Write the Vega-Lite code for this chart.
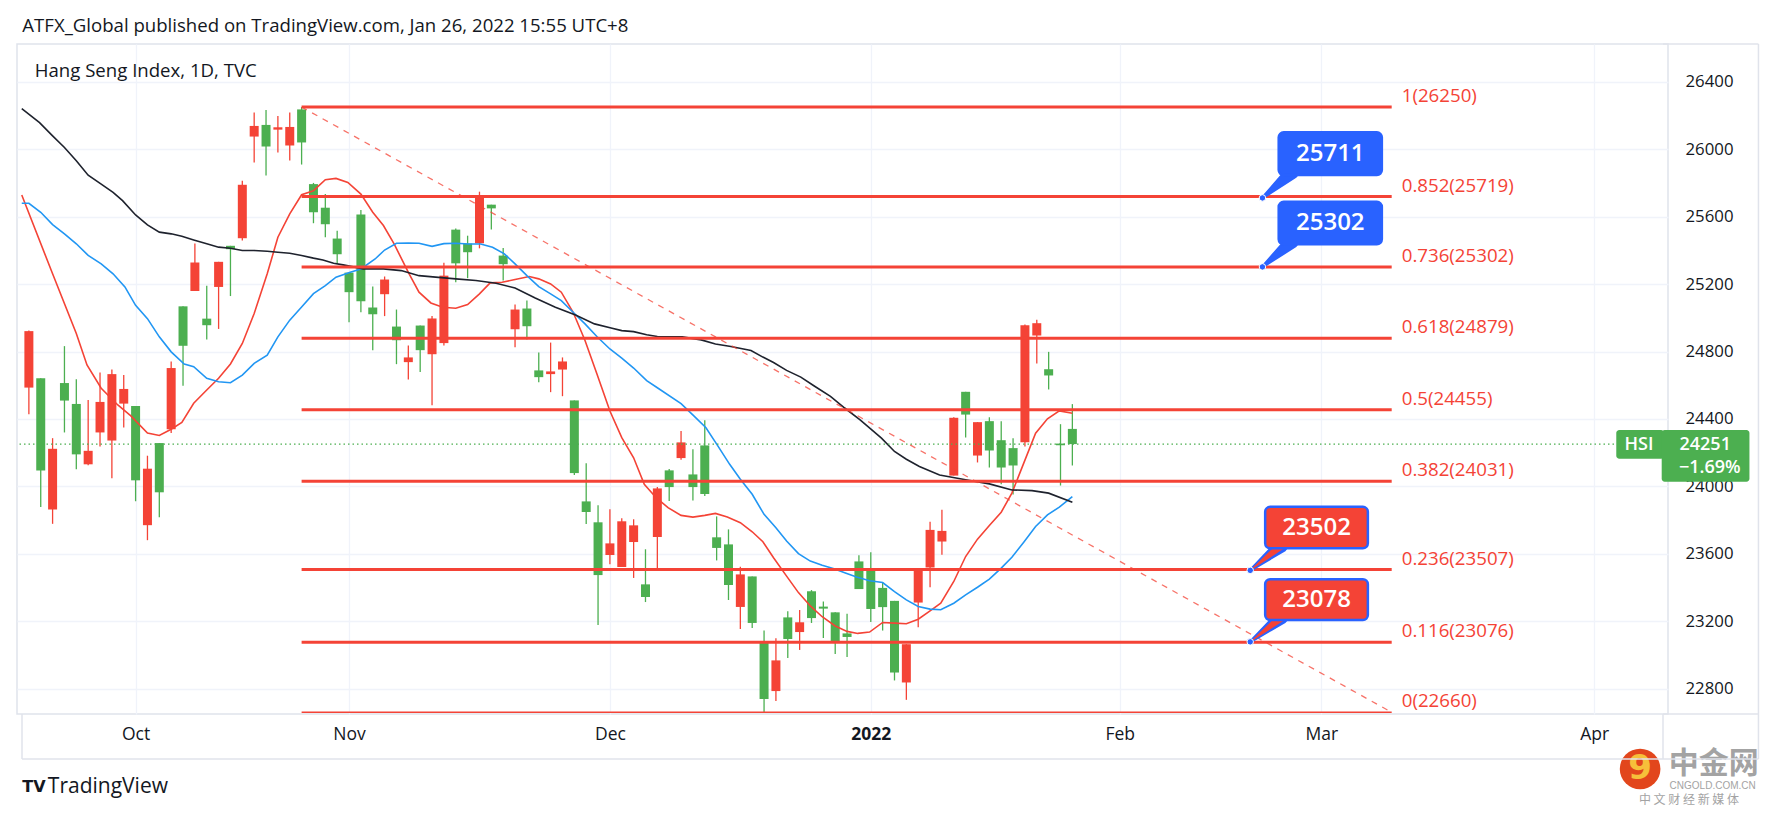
{
"$schema": "https://vega.github.io/schema/vega-lite/v6.json",
"width": 1651,
"height": 670,
"autosize": {"type": "none"},
"padding": {"left": 17, "top": 44, "right": 111, "bottom": 104},
"background": "#ffffff",
"config": {
  "view": {"stroke": "#E0E3EB", "strokeWidth": 1.5},
  "font": "Open Sans",
  "axisX": {"labelFontSize": 17.5, "labelFont": "Open Sans", "labelColor": "#131722", "ticks": false, "domain": false, "grid": true, "gridColor": "#F0F3FA", "gridWidth": 1.3, "labelPadding": 11, "labelFlush": false, "labelOverlap": false},
  "axisY": {"labelFontSize": 16.8, "labelFont": "Open Sans", "labelColor": "#131722", "ticks": false, "domain": false, "grid": true, "gridColor": "#F0F3FA", "gridWidth": 1.3, "labelPadding": 17, "labelFlush": false, "labelOverlap": false}
},
"datasets": {
  "candles": [
    {"i":-27,"o":24921,"h":24925,"l":24428,"c":24586},
    {"i":-26,"o":24095,"h":24641,"l":23878,"c":24641},
    {"i":-25,"o":24223,"h":24286,"l":23778,"c":23863},
    {"i":-24,"o":24509,"h":24832,"l":24320,"c":24613},
    {"i":-23,"o":24190,"h":24635,"l":24101,"c":24489},
    {"i":-22,"o":24211,"h":24513,"l":24125,"c":24131},
    {"i":-21,"o":24501,"h":24676,"l":24237,"c":24320},
    {"i":-20,"o":24666,"h":24694,"l":24048,"c":24272},
    {"i":-19,"o":24578,"h":24660,"l":24349,"c":24491},
    {"i":-18,"o":24036,"h":24477,"l":23912,"c":24477},
    {"i":-17,"o":24105,"h":24182,"l":23681,"c":23770},
    {"i":-16,"o":23965,"h":24257,"l":23817,"c":24257},
    {"i":-15,"o":24702,"h":24741,"l":24316,"c":24339},
    {"i":-14,"o":24834,"h":25068,"l":24597,"c":25068},
    {"i":-13,"o":25328,"h":25441,"l":25159,"c":25159},
    {"i":-12,"o":24956,"h":25190,"l":24871,"c":24995},
    {"i":-11,"o":25332,"h":25332,"l":24934,"c":25183},
    {"i":-10,"o":25407,"h":25427,"l":25129,"c":25427},
    {"i":-9,"o":25789,"h":25813,"l":25458,"c":25472},
    {"i":-8,"o":26138,"h":26217,"l":25921,"c":26075},
    {"i":-7,"o":26016,"h":26233,"l":25844,"c":26144},
    {"i":-6,"o":26130,"h":26197,"l":25980,"c":26116},
    {"i":-5,"o":26132,"h":26217,"l":25933,"c":26022},
    {"i":-4,"o":26040,"h":26250,"l":25909,"c":26236},
    {"i":-3,"o":25626,"h":25800,"l":25561,"c":25793},
    {"i":-2,"o":25555,"h":25734,"l":25478,"c":25653},
    {"i":-1,"o":25377,"h":25517,"l":25320,"c":25470},
    {"i":0,"o":25152,"h":25268,"l":24974,"c":25268},
    {"i":1,"o":25098,"h":25640,"l":25033,"c":25612},
    {"i":2,"o":25021,"h":25185,"l":24808,"c":25061},
    {"i":3,"o":25227,"h":25245,"l":25010,"c":25140},
    {"i":4,"o":24867,"h":25049,"l":24725,"c":24948},
    {"i":5,"o":24765,"h":24836,"l":24634,"c":24737},
    {"i":6,"o":24808,"h":24954,"l":24678,"c":24954},
    {"i":7,"o":24996,"h":25011,"l":24482,"c":24784},
    {"i":8,"o":25250,"h":25327,"l":24836,"c":24850},
    {"i":9,"o":25323,"h":25529,"l":25211,"c":25523},
    {"i":10,"o":25389,"h":25487,"l":25235,"c":25440},
    {"i":11,"o":25718,"h":25748,"l":25412,"c":25442},
    {"i":12,"o":25649,"h":25671,"l":25523,"c":25671},
    {"i":13,"o":25318,"h":25414,"l":25221,"c":25369},
    {"i":14,"o":25049,"h":25079,"l":24826,"c":24932},
    {"i":15,"o":24950,"h":25102,"l":24871,"c":25055},
    {"i":16,"o":24648,"h":24794,"l":24618,"c":24688},
    {"i":17,"o":24682,"h":24853,"l":24559,"c":24666},
    {"i":18,"o":24741,"h":24765,"l":24535,"c":24693},
    {"i":19,"o":24079,"h":24510,"l":24068,"c":24510},
    {"i":20,"o":23848,"h":24137,"l":23777,"c":23911},
    {"i":21,"o":23474,"h":23888,"l":23178,"c":23787},
    {"i":22,"o":23662,"h":23864,"l":23538,"c":23593},
    {"i":23,"o":23793,"h":23811,"l":23522,"c":23522},
    {"i":24,"o":23769,"h":23805,"l":23457,"c":23670},
    {"i":25,"o":23344,"h":23627,"l":23314,"c":23419},
    {"i":26,"o":23988,"h":23996,"l":23514,"c":23700},
    {"i":27,"o":23996,"h":24103,"l":23913,"c":24095},
    {"i":28,"o":24261,"h":24328,"l":24158,"c":24168},
    {"i":29,"o":23996,"h":24220,"l":23917,"c":24071},
    {"i":30,"o":23955,"h":24392,"l":23943,"c":24243},
    {"i":31,"o":23635,"h":23822,"l":23561,"c":23698},
    {"i":32,"o":23415,"h":23745,"l":23326,"c":23656},
    {"i":33,"o":23478,"h":23524,"l":23154,"c":23285},
    {"i":34,"o":23190,"h":23466,"l":23160,"c":23466},
    {"i":35,"o":22739,"h":23146,"l":22658,"c":23079},
    {"i":36,"o":22968,"h":23099,"l":22727,"c":22786},
    {"i":37,"o":23095,"h":23259,"l":22982,"c":23223},
    {"i":38,"o":23194,"h":23267,"l":23030,"c":23136},
    {"i":39,"o":23219,"h":23385,"l":23190,"c":23378},
    {"i":40,"o":23275,"h":23318,"l":23101,"c":23287},
    {"i":41,"o":23083,"h":23253,"l":23006,"c":23253},
    {"i":42,"o":23107,"h":23245,"l":22988,"c":23128},
    {"i":43,"o":23391,"h":23591,"l":23391,"c":23555},
    {"i":44,"o":23273,"h":23609,"l":23196,"c":23514},
    {"i":45,"o":23284,"h":23430,"l":23145,"c":23398},
    {"i":46,"o":22896,"h":23321,"l":22849,"c":23321},
    {"i":47,"o":23064,"h":23064,"l":22734,"c":22837},
    {"i":48,"o":23499,"h":23510,"l":23165,"c":23311},
    {"i":49,"o":23742,"h":23790,"l":23402,"c":23519},
    {"i":50,"o":23736,"h":23861,"l":23594,"c":23673},
    {"i":51,"o":24407,"h":24410,"l":24064,"c":24064},
    {"i":52,"o":24426,"h":24561,"l":24290,"c":24561},
    {"i":53,"o":24381,"h":24381,"l":24142,"c":24183},
    {"i":54,"o":24213,"h":24410,"l":24112,"c":24387},
    {"i":55,"o":24112,"h":24387,"l":24013,"c":24274},
    {"i":56,"o":24124,"h":24286,"l":23952,"c":24227},
    {"i":57,"o":24956,"h":24960,"l":24236,"c":24262},
    {"i":58,"o":24968,"h":24988,"l":24729,"c":24895},
    {"i":59,"o":24658,"h":24798,"l":24575,"c":24695},
    {"i":60,"o":24244,"h":24369,"l":24005,"c":24254},
    {"i":61,"o":24251,"h":24488,"l":24124,"c":24341}
  ],
  "mas": [
    {"ma":"fast","i":-27.6,"v":25728},{"ma":"fast","i":-25,"v":25261},{"ma":"fast","i":-23,"v":24907},{"ma":"fast","i":-22.1,"v":24720},{"ma":"fast","i":-20.9,"v":24582},{"ma":"fast","i":-19.5,"v":24483},{"ma":"fast","i":-18.4,"v":24418},{"ma":"fast","i":-17,"v":24316},{"ma":"fast","i":-16,"v":24302},{"ma":"fast","i":-15,"v":24339},{"ma":"fast","i":-14.1,"v":24379},{"ma":"fast","i":-13.1,"v":24493},{"ma":"fast","i":-12,"v":24572},{"ma":"fast","i":-11,"v":24641},{"ma":"fast","i":-10,"v":24726},{"ma":"fast","i":-9,"v":24848},{"ma":"fast","i":-8,"v":25025},{"ma":"fast","i":-6.9,"v":25261},{"ma":"fast","i":-6,"v":25478},{"ma":"fast","i":-5,"v":25616},{"ma":"fast","i":-4,"v":25730},{"ma":"fast","i":-3,"v":25754},{"ma":"fast","i":-2,"v":25819},{"ma":"fast","i":-1.1,"v":25827},{"ma":"fast","i":-0.1,"v":25803},{"ma":"fast","i":1,"v":25734},{"ma":"fast","i":2,"v":25626},{"ma":"fast","i":2.9,"v":25547},{"ma":"fast","i":3.8,"v":25438},{"ma":"fast","i":5,"v":25270},{"ma":"fast","i":5.9,"v":25152},{"ma":"fast","i":6.9,"v":25088},{"ma":"fast","i":7.9,"v":25063},{"ma":"fast","i":9,"v":25057},{"ma":"fast","i":10,"v":25079},{"ma":"fast","i":11,"v":25142},{"ma":"fast","i":11.9,"v":25207},{"ma":"fast","i":12.9,"v":25211},{"ma":"fast","i":14,"v":25227},{"ma":"fast","i":15.2,"v":25245},{"ma":"fast","i":16,"v":25231},{"ma":"fast","i":17,"v":25201},{"ma":"fast","i":17.9,"v":25152},{"ma":"fast","i":18.9,"v":25033},{"ma":"fast","i":19.9,"v":24865},{"ma":"fast","i":20.9,"v":24668},{"ma":"fast","i":22,"v":24447},{"ma":"fast","i":23,"v":24289},{"ma":"fast","i":24,"v":24170},{"ma":"fast","i":24.9,"v":24012},{"ma":"fast","i":25.9,"v":23933},{"ma":"fast","i":26.9,"v":23874},{"ma":"fast","i":28,"v":23828},{"ma":"fast","i":29,"v":23818},{"ma":"fast","i":30,"v":23828},{"ma":"fast","i":30.9,"v":23840},{"ma":"fast","i":31.9,"v":23818},{"ma":"fast","i":33,"v":23785},{"ma":"fast","i":34,"v":23731},{"ma":"fast","i":34.9,"v":23672},{"ma":"fast","i":35.8,"v":23577},{"ma":"fast","i":36.9,"v":23468},{"ma":"fast","i":37.9,"v":23370},{"ma":"fast","i":38.9,"v":23291},{"ma":"fast","i":39.9,"v":23227},{"ma":"fast","i":41,"v":23172},{"ma":"fast","i":42,"v":23140},{"ma":"fast","i":42.9,"v":23128},{"ma":"fast","i":43.9,"v":23136},{"ma":"fast","i":45,"v":23193},{"ma":"fast","i":46,"v":23189},{"ma":"fast","i":47,"v":23185},{"ma":"fast","i":48,"v":23212},{"ma":"fast","i":49,"v":23262},{"ma":"fast","i":49.9,"v":23307},{"ma":"fast","i":51,"v":23436},{"ma":"fast","i":52,"v":23584},{"ma":"fast","i":53,"v":23687},{"ma":"fast","i":54,"v":23768},{"ma":"fast","i":55,"v":23847},{"ma":"fast","i":55.9,"v":23960},{"ma":"fast","i":56.9,"v":24138},{"ma":"fast","i":57.9,"v":24316},{"ma":"fast","i":58.9,"v":24401},{"ma":"fast","i":59.9,"v":24448},{"ma":"fast","i":61,"v":24434},
    {"ma":"mid","i":-27.6,"v":25679},{"ma":"mid","i":-27,"v":25679},{"ma":"mid","i":-26,"v":25626},{"ma":"mid","i":-25,"v":25553},{"ma":"mid","i":-24,"v":25498},{"ma":"mid","i":-23,"v":25439},{"ma":"mid","i":-22,"v":25370},{"ma":"mid","i":-20.9,"v":25320},{"ma":"mid","i":-19.9,"v":25261},{"ma":"mid","i":-18.9,"v":25183},{"ma":"mid","i":-18,"v":25074},{"ma":"mid","i":-17,"v":24995},{"ma":"mid","i":-16,"v":24887},{"ma":"mid","i":-15,"v":24798},{"ma":"mid","i":-13.9,"v":24726},{"ma":"mid","i":-13.1,"v":24710},{"ma":"mid","i":-12,"v":24641},{"ma":"mid","i":-11,"v":24621},{"ma":"mid","i":-10,"v":24615},{"ma":"mid","i":-9,"v":24660},{"ma":"mid","i":-8,"v":24730},{"ma":"mid","i":-6.9,"v":24779},{"ma":"mid","i":-6,"v":24887},{"ma":"mid","i":-5,"v":24986},{"ma":"mid","i":-4,"v":25064},{"ma":"mid","i":-3,"v":25143},{"ma":"mid","i":-2,"v":25191},{"ma":"mid","i":-1.1,"v":25241},{"ma":"mid","i":0.1,"v":25270},{"ma":"mid","i":1,"v":25290},{"ma":"mid","i":2.2,"v":25349},{"ma":"mid","i":3,"v":25402},{"ma":"mid","i":4,"v":25442},{"ma":"mid","i":5,"v":25444},{"ma":"mid","i":5.9,"v":25442},{"ma":"mid","i":7,"v":25424},{"ma":"mid","i":8,"v":25440},{"ma":"mid","i":9,"v":25442},{"ma":"mid","i":10.1,"v":25438},{"ma":"mid","i":11.1,"v":25438},{"ma":"mid","i":12.1,"v":25418},{"ma":"mid","i":13.1,"v":25379},{"ma":"mid","i":14,"v":25320},{"ma":"mid","i":15,"v":25250},{"ma":"mid","i":16,"v":25185},{"ma":"mid","i":17,"v":25142},{"ma":"mid","i":17.9,"v":25102},{"ma":"mid","i":18.9,"v":25033},{"ma":"mid","i":19.9,"v":24964},{"ma":"mid","i":20.9,"v":24889},{"ma":"mid","i":22,"v":24815},{"ma":"mid","i":23,"v":24761},{"ma":"mid","i":24,"v":24702},{"ma":"mid","i":25.1,"v":24627},{"ma":"mid","i":26,"v":24585},{"ma":"mid","i":28,"v":24491},{"ma":"mid","i":29.1,"v":24417},{"ma":"mid","i":30.1,"v":24348},{"ma":"mid","i":31.1,"v":24240},{"ma":"mid","i":32.1,"v":24131},{"ma":"mid","i":33,"v":24042},{"ma":"mid","i":34,"v":23953},{"ma":"mid","i":35,"v":23834},{"ma":"mid","i":36,"v":23755},{"ma":"mid","i":36.9,"v":23676},{"ma":"mid","i":37.9,"v":23601},{"ma":"mid","i":38.9,"v":23557},{"ma":"mid","i":39.9,"v":23532},{"ma":"mid","i":40.9,"v":23512},{"ma":"mid","i":41.8,"v":23488},{"ma":"mid","i":42.8,"v":23463},{"ma":"mid","i":43.9,"v":23440},{"ma":"mid","i":45,"v":23430},{"ma":"mid","i":46,"v":23376},{"ma":"mid","i":47,"v":23327},{"ma":"mid","i":48,"v":23288},{"ma":"mid","i":49,"v":23272},{"ma":"mid","i":49.9,"v":23268},{"ma":"mid","i":51,"v":23307},{"ma":"mid","i":52,"v":23357},{"ma":"mid","i":53,"v":23402},{"ma":"mid","i":54,"v":23450},{"ma":"mid","i":55,"v":23515},{"ma":"mid","i":55.9,"v":23580},{"ma":"mid","i":56.9,"v":23669},{"ma":"mid","i":57.9,"v":23762},{"ma":"mid","i":58.9,"v":23831},{"ma":"mid","i":59.9,"v":23877},{"ma":"mid","i":61,"v":23940},
    {"ma":"slow","i":-27.6,"v":26240},{"ma":"slow","i":-26.1,"v":26158},{"ma":"slow","i":-25,"v":26079},{"ma":"slow","i":-24,"v":26010},{"ma":"slow","i":-23,"v":25931},{"ma":"slow","i":-22,"v":25846},{"ma":"slow","i":-20.9,"v":25793},{"ma":"slow","i":-19.9,"v":25744},{"ma":"slow","i":-19.1,"v":25695},{"ma":"slow","i":-18,"v":25610},{"ma":"slow","i":-17,"v":25551},{"ma":"slow","i":-16,"v":25508},{"ma":"slow","i":-15,"v":25498},{"ma":"slow","i":-14.1,"v":25484},{"ma":"slow","i":-13.1,"v":25462},{"ma":"slow","i":-12,"v":25439},{"ma":"slow","i":-11,"v":25419},{"ma":"slow","i":-10,"v":25413},{"ma":"slow","i":-9,"v":25399},{"ma":"slow","i":-8,"v":25399},{"ma":"slow","i":-6.9,"v":25395},{"ma":"slow","i":-6,"v":25389},{"ma":"slow","i":-5,"v":25383},{"ma":"slow","i":-4,"v":25370},{"ma":"slow","i":-3,"v":25354},{"ma":"slow","i":-2.2,"v":25343},{"ma":"slow","i":-1.3,"v":25324},{"ma":"slow","i":-0.5,"v":25314},{"ma":"slow","i":1.2,"v":25290},{"ma":"slow","i":2.9,"v":25290},{"ma":"slow","i":4.4,"v":25280},{"ma":"slow","i":5.9,"v":25250},{"ma":"slow","i":7.3,"v":25241},{"ma":"slow","i":9,"v":25231},{"ma":"slow","i":10.7,"v":25221},{"ma":"slow","i":12.4,"v":25205},{"ma":"slow","i":14,"v":25177},{"ma":"slow","i":15.7,"v":25118},{"ma":"slow","i":17.4,"v":25063},{"ma":"slow","i":19.1,"v":25017},{"ma":"slow","i":20.7,"v":24964},{"ma":"slow","i":22.1,"v":24940},{"ma":"slow","i":23,"v":24924},{"ma":"slow","i":24,"v":24918},{"ma":"slow","i":25.1,"v":24899},{"ma":"slow","i":26,"v":24889},{"ma":"slow","i":28.1,"v":24887},{"ma":"slow","i":29.7,"v":24869},{"ma":"slow","i":30.9,"v":24845},{"ma":"slow","i":32.2,"v":24830},{"ma":"slow","i":33.9,"v":24806},{"ma":"slow","i":34.9,"v":24767},{"ma":"slow","i":35.8,"v":24735},{"ma":"slow","i":36.9,"v":24688},{"ma":"slow","i":38.1,"v":24648},{"ma":"slow","i":39.2,"v":24597},{"ma":"slow","i":40.6,"v":24534},{"ma":"slow","i":41.8,"v":24465},{"ma":"slow","i":43.1,"v":24395},{"ma":"slow","i":44.9,"v":24286},{"ma":"slow","i":46,"v":24207},{"ma":"slow","i":47,"v":24161},{"ma":"slow","i":48.1,"v":24118},{"ma":"slow","i":49.8,"v":24068},{"ma":"slow","i":52,"v":24039},{"ma":"slow","i":54,"v":24015},{"ma":"slow","i":55.9,"v":23979},{"ma":"slow","i":57.6,"v":23975},{"ma":"slow","i":59,"v":23960},{"ma":"slow","i":61,"v":23906}
  ],
  "fibs": [
    {"ratio":1,"price":26250,"label":"1(26250)","from":-4,"to":87.93},
    {"ratio":0.852,"price":25719,"label":"0.852(25719)","from":-4,"to":87.93},
    {"ratio":0.736,"price":25302,"label":"0.736(25302)","from":-4,"to":87.93},
    {"ratio":0.618,"price":24879,"label":"0.618(24879)","from":-4,"to":87.93},
    {"ratio":0.5,"price":24455,"label":"0.5(24455)","from":-4,"to":87.93},
    {"ratio":0.382,"price":24031,"label":"0.382(24031)","from":-4,"to":87.93},
    {"ratio":0.236,"price":23507,"label":"0.236(23507)","from":-4,"to":87.93},
    {"ratio":0.116,"price":23076,"label":"0.116(23076)","from":-4,"to":87.93},
    {"ratio":0,"price":22660,"label":"0(22660)","from":-4,"to":87.93}
  ],
  "anchors": [{"i":-4,"v":26250},{"i":87.93,"v":22660}],
  "callouts": [
    {"label":"25711","kind":"blue","x1":78.4,"x2":87.1,"top":26100,"bottom":25847,"cx":82.75,"cy":25973,"tipI":77.03,"tipV":25711},
    {"label":"25302","kind":"blue","x1":78.4,"x2":87.1,"top":25688,"bottom":25436,"cx":82.75,"cy":25562,"tipI":77.03,"tipV":25302},
    {"label":"23502","kind":"red","x1":77.26,"x2":85.92,"top":23879,"bottom":23633,"cx":81.6,"cy":23756,"tipI":76.0,"tipV":23502},
    {"label":"23078","kind":"red","x1":77.26,"x2":85.92,"top":23449,"bottom":23207,"cx":81.6,"cy":23328,"tipI":76.0,"tipV":23078}
  ],
  "pointers": [
    {"id":"a","kind":"blue","t":1,"i":79.5,"v":25862},{"id":"a","kind":"blue","t":0,"i":77.03,"v":25711},
    {"id":"b","kind":"blue","t":1,"i":79.5,"v":25451},{"id":"b","kind":"blue","t":0,"i":77.03,"v":25302},
    {"id":"c","kind":"red","t":1,"i":78.6,"v":23648},{"id":"c","kind":"red","t":0,"i":76.0,"v":23502},
    {"id":"d","kind":"red","t":1,"i":78.6,"v":23222},{"id":"d","kind":"red","t":0,"i":76.0,"v":23078}
  ],
  "hsiBoxes": [
    {"x1":106.87,"x2":110.9,"top":24335,"bottom":24164},
    {"x1":110.7,"x2":118.1,"top":24335,"bottom":24028}
  ],
  "hsiTexts": [
    {"i":107.57,"v":24247,"text":"HSI"},
    {"i":112.2,"v":24247,"text":"24251"},
    {"i":112.15,"v":24109,"text":"−1.69%"}
  ],
  "notes": [
    {"i":-27.55,"v":26697,"text":"ATFX_Global published on TradingView.com, Jan 26, 2022 15:55 UTC+8"},
    {"i":-26.5,"v":26430,"text":"Hang Seng Index, 1D, TVC"}
  ],
  "frame": [
    {"x1":110.81,"x2":118.86,"y1":26624,"y2":26624},
    {"x1":118.86,"x2":118.86,"y1":22383,"y2":26624},
    {"x1":-27.58,"x2":118.86,"y1":22383,"y2":22383},
    {"x1":-27.58,"x2":-27.58,"y1":22383,"y2":22650},
    {"x1":110.81,"x2":110.81,"y1":22383,"y2":22650},
    {"x1":110.81,"x2":118.86,"y1":22650,"y2":22650}
  ]
},
"layer": [
  {
    "data": {"name": "candles"},
    "mark": {"type": "rule", "strokeWidth": 1.3},
    "encoding": {
      "x": {"field": "i", "type": "quantitative", "title": null, "scale": {"domain": [-27.58, 110.81], "nice": false, "zero": false},
        "axis": {"title": null, "values": [-18, 0, 22, 44, 65, 82, 105], "labelExpr": "datum.value == -18 ? 'Oct' : datum.value == 0 ? 'Nov' : datum.value == 22 ? 'Dec' : datum.value == 44 ? '2022' : datum.value == 65 ? 'Feb' : datum.value == 82 ? 'Mar' : 'Apr'", "labelFontWeight": {"condition": {"test": "datum.value == 44", "value": "bold"}, "value": "normal"}}},
      "y": {"field": "l", "type": "quantitative", "title": null, "scale": {"domain": [22650, 26624], "nice": false, "zero": false},
        "axis": {"title": null, "orient": "right", "values": [22800, 23200, 23600, 24000, 24400, 24800, 25200, 25600, 26000, 26400], "format": "d"}},
      "y2": {"field": "h"},
      "color": {"condition": {"test": "datum.c >= datum.o", "value": "#4CAF50"}, "value": "#F44336"}
    }
  },
  {
    "data": {"name": "candles"},
    "mark": {"type": "bar", "size": 9},
    "encoding": {
      "x": {"field": "i", "type": "quantitative", "title": null},
      "y": {"field": "o", "type": "quantitative", "title": null},
      "y2": {"field": "c"},
      "color": {"condition": {"test": "datum.c >= datum.o", "value": "#4CAF50"}, "value": "#F44336"}
    }
  },
  {
    "data": {"name": "mas"},
    "mark": {"type": "line", "strokeWidth": 1.6, "clip": true},
    "encoding": {
      "x": {"field": "i", "type": "quantitative", "title": null},
      "y": {"field": "v", "type": "quantitative", "title": null},
      "color": {"field": "ma", "type": "nominal", "scale": {"domain": ["fast", "mid", "slow"], "range": ["#F44336", "#2196F3", "#1E222D"]}, "legend": null}
    }
  },
  {
    "data": {"name": "anchors"},
    "mark": {"type": "line", "strokeWidth": 1.3, "strokeDash": [6, 6], "color": "#F44336", "opacity": 0.75},
    "encoding": {
      "x": {"field": "i", "type": "quantitative", "title": null},
      "y": {"field": "v", "type": "quantitative", "title": null}
    }
  },
  {
    "data": {"name": "fibs"},
    "mark": {"type": "rule", "color": "#F44336", "clip": true},
    "encoding": {
      "x": {"field": "from", "type": "quantitative", "title": null},
      "x2": {"field": "to"},
      "y": {"field": "price", "type": "quantitative", "title": null},
      "strokeWidth": {"condition": {"test": "datum.ratio == 0", "value": 1.5}, "value": 3}
    }
  },
  {
    "data": {"name": "fibs"},
    "mark": {"type": "text", "align": "left", "baseline": "middle", "dx": 10, "dy": -11, "fontSize": 18.7, "font": "Open Sans", "color": "#F44336"},
    "encoding": {
      "x": {"field": "to", "type": "quantitative", "title": null},
      "y": {"field": "price", "type": "quantitative", "title": null},
      "text": {"field": "label"}
    }
  },
  {
    "data": {"values": [{"price": 24251}]},
    "mark": {"type": "rule", "color": "#4CAF50", "strokeWidth": 1.3, "strokeDash": [1.5, 3]},
    "encoding": {
      "y": {"field": "price", "type": "quantitative", "title": null}
    }
  },
  {
    "data": {"name": "pointers"},
    "mark": {"type": "trail", "color": "#2962FF"},
    "encoding": {
      "x": {"field": "i", "type": "quantitative", "title": null},
      "y": {"field": "v", "type": "quantitative", "title": null},
      "detail": {"field": "id"},
      "size": {"field": "t", "type": "quantitative", "scale": {"domain": [0, 1], "range": [3, 14]}, "legend": null}
    }
  },
  {
    "data": {"name": "pointers"},
    "transform": [{"filter": "datum.kind == 'red'"}],
    "mark": {"type": "trail", "color": "#F44336"},
    "encoding": {
      "x": {"field": "i", "type": "quantitative", "title": null},
      "y": {"field": "v", "type": "quantitative", "title": null},
      "detail": {"field": "id"},
      "size": {"field": "t", "type": "quantitative", "scale": {"domain": [0, 1], "range": [0.5, 8]}, "legend": null}
    }
  },
  {
    "data": {"name": "callouts"},
    "mark": {"type": "rect", "cornerRadius": 5, "stroke": "#2962FF", "strokeWidth": 2.5},
    "encoding": {
      "x": {"field": "x1", "type": "quantitative", "title": null},
      "x2": {"field": "x2"},
      "y": {"field": "top", "type": "quantitative", "title": null},
      "y2": {"field": "bottom"},
      "fill": {"condition": {"test": "datum.kind == 'blue'", "value": "#2962FF"}, "value": "#F44336"}
    }
  },
  {
    "data": {"name": "callouts"},
    "mark": {"type": "text", "align": "center", "baseline": "middle", "fontSize": 24, "fontWeight": 600, "font": "Open Sans", "color": "#ffffff"},
    "encoding": {
      "x": {"field": "cx", "type": "quantitative", "title": null},
      "y": {"field": "cy", "type": "quantitative", "title": null},
      "text": {"field": "label"}
    }
  },
  {
    "data": {"name": "callouts"},
    "mark": {"type": "circle", "size": 42, "color": "#2962FF", "opacity": 1, "stroke": "#ffffff", "strokeWidth": 1},
    "encoding": {
      "x": {"field": "tipI", "type": "quantitative", "title": null},
      "y": {"field": "tipV", "type": "quantitative", "title": null}
    }
  },
  {
    "data": {"name": "hsiBoxes"},
    "mark": {"type": "rect", "cornerRadius": 3, "color": "#4CAF50"},
    "encoding": {
      "x": {"field": "x1", "type": "quantitative", "title": null},
      "x2": {"field": "x2"},
      "y": {"field": "top", "type": "quantitative", "title": null},
      "y2": {"field": "bottom"}
    }
  },
  {
    "data": {"name": "hsiTexts"},
    "mark": {"type": "text", "align": "left", "baseline": "middle", "fontSize": 18, "fontWeight": 600, "font": "Open Sans", "color": "#ffffff"},
    "encoding": {
      "x": {"field": "i", "type": "quantitative", "title": null},
      "y": {"field": "v", "type": "quantitative", "title": null},
      "text": {"field": "text"}
    }
  },
  {
    "data": {"name": "notes"},
    "mark": {"type": "text", "align": "left", "baseline": "alphabetic", "fontSize": 18.6, "font": "Open Sans", "color": "#131722"},
    "encoding": {
      "x": {"field": "i", "type": "quantitative", "title": null},
      "y": {"field": "v", "type": "quantitative", "title": null},
      "text": {"field": "text"}
    }
  },
  {
    "data": {"values": [{"i": -25.4, "v": 22215, "text": "TradingView"}]},
    "mark": {"type": "text", "align": "left", "baseline": "middle", "fontSize": 21, "font": "Open Sans", "color": "#131722"},
    "encoding": {
      "x": {"field": "i", "type": "quantitative", "title": null},
      "y": {"field": "v", "type": "quantitative", "title": null},
      "text": {"field": "text"}
    }
  },
  {
    "data": {"values": [{"i": -27.55, "v": 22215, "text": "TV"}]},
    "mark": {"type": "text", "align": "left", "baseline": "middle", "fontSize": 16, "fontWeight": 900, "font": "DejaVu Sans", "color": "#131722"},
    "encoding": {
      "x": {"field": "i", "type": "quantitative", "title": null},
      "y": {"field": "v", "type": "quantitative", "title": null},
      "text": {"field": "text"}
    }
  },
  {
    "data": {"values": [{"i": 108.88, "v": 22324}]},
    "mark": {"type": "circle", "size": 1650, "color": "#E2461C", "opacity": 1},
    "encoding": {
      "x": {"field": "i", "type": "quantitative", "title": null},
      "y": {"field": "v", "type": "quantitative", "title": null}
    }
  },
  {
    "data": {"values": [{"i": 108.88, "v": 22324, "text": "9"}]},
    "mark": {"type": "text", "align": "center", "baseline": "middle", "fontSize": 34, "fontWeight": "bold", "font": "DejaVu Sans", "color": "#F6C03A"},
    "encoding": {
      "x": {"field": "i", "type": "quantitative", "title": null},
      "y": {"field": "v", "type": "quantitative", "title": null},
      "text": {"field": "text"}
    }
  },
  {
    "data": {"values": [{"i": 115.09, "v": 22354, "text": "中金网"}]},
    "mark": {"type": "text", "align": "center", "baseline": "middle", "fontSize": 30, "fontWeight": "bold", "font": "Noto Sans CJK SC", "color": "#A3A3A3"},
    "encoding": {
      "x": {"field": "i", "type": "quantitative", "title": null},
      "y": {"field": "v", "type": "quantitative", "title": null},
      "text": {"field": "text"}
    }
  },
  {
    "data": {"values": [{"i": 115.0, "v": 22223, "text": "CNGOLD.COM.CN"}]},
    "mark": {"type": "text", "align": "center", "baseline": "middle", "fontSize": 10, "font": "Liberation Sans", "color": "#A3A3A3"},
    "encoding": {
      "x": {"field": "i", "type": "quantitative", "title": null},
      "y": {"field": "v", "type": "quantitative", "title": null},
      "text": {"field": "text"}
    }
  },
  {
    "data": {"values": [{"i": 113.0, "v": 22140, "text": "中 文 财 经 新 媒 体"}]},
    "mark": {"type": "text", "align": "center", "baseline": "middle", "fontSize": 12, "font": "Noto Sans CJK SC", "color": "#A3A3A3"},
    "encoding": {
      "x": {"field": "i", "type": "quantitative", "title": null},
      "y": {"field": "v", "type": "quantitative", "title": null},
      "text": {"field": "text"}
    }
  },
  {
    "data": {"name": "frame"},
    "mark": {"type": "rule", "color": "#E0E3EB", "strokeWidth": 1.5},
    "encoding": {
      "x": {"field": "x1", "type": "quantitative", "title": null},
      "x2": {"field": "x2"},
      "y": {"field": "y1", "type": "quantitative", "title": null},
      "y2": {"field": "y2"}
    }
  }
],
"resolve": {"scale": {"size": "independent"}}
}
